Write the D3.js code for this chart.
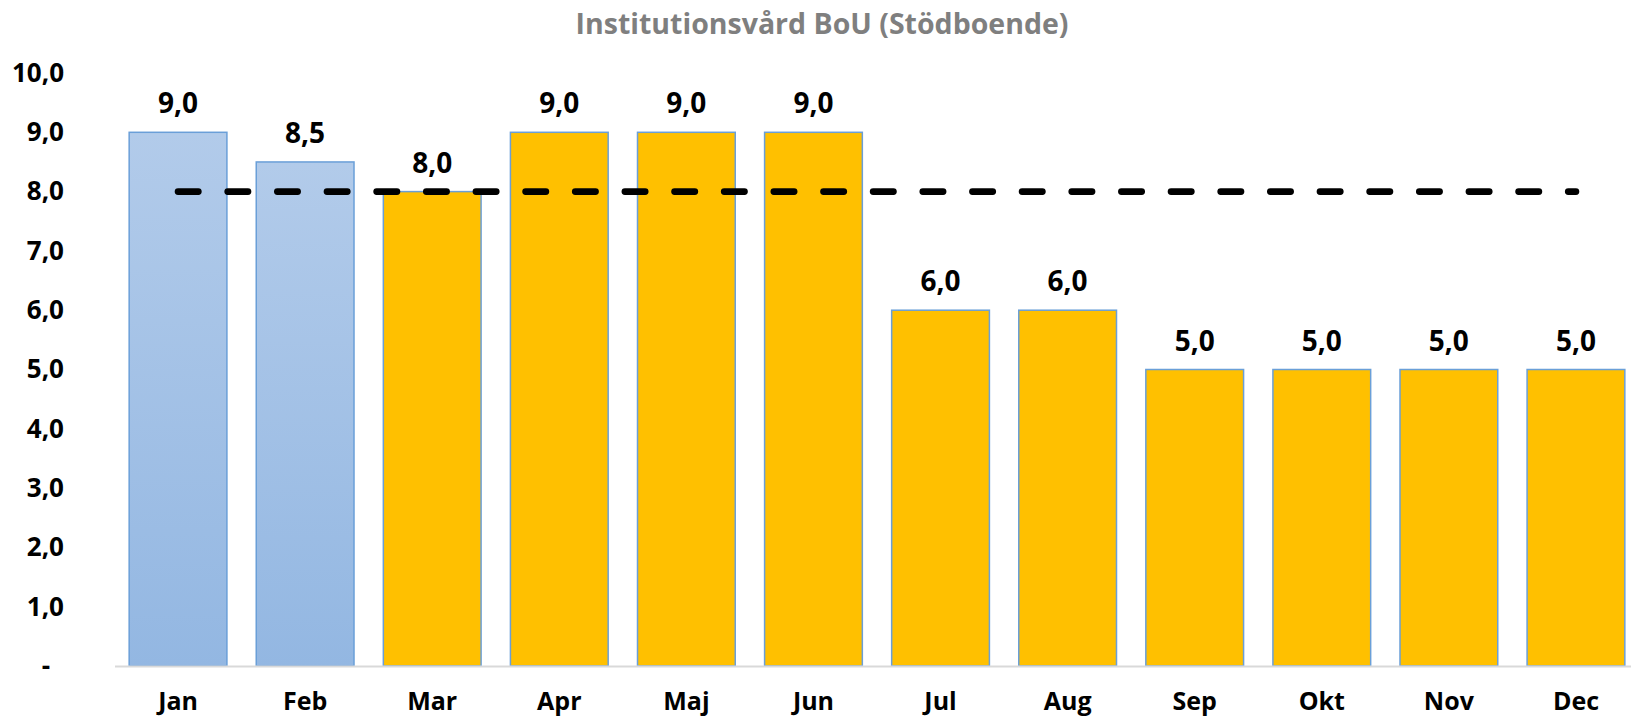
<!DOCTYPE html>
<html lang="sv">
<head>
  <meta charset="UTF-8">
  <title>Institutionsvård BoU (Stödboende)</title>
  <style>
    body{ margin: 0; background: #fff; }
    svg{ display: block; }
    text{ font-family: "Open Sans", sans-serif; font-weight: bold; }
  </style>
</head>
<body>
<svg width="1631" height="717"></svg>

<script src="https://cdn.jsdelivr.net/npm/d3@7"></script>
<script>
  // data
  var months = ["Jan", "Feb", "Mar", "Apr", "Maj", "Jun", "Jul", "Aug", "Sep", "Okt", "Nov", "Dec"];
  var values = [9.0, 8.5, 8.0, 9.0, 9.0, 9.0, 6.0, 6.0, 5.0, 5.0, 5.0, 5.0];
  var kind = ["utfall", "utfall", "prognos", "prognos", "prognos", "prognos", "prognos", "prognos", "prognos", "prognos", "prognos", "prognos"];
  var target = [8, 8, 8, 8, 8, 8, 8, 8, 8, 8, 8, 8];
  var yTicks = [0, 1, 2, 3, 4, 5, 6, 7, 8, 9, 10];

  var svg = d3.select('svg');
  var fmt = function (v) { return v === 0 ? '-' : d3.format('.1f')(v).replace('.', ','); };

  var x = d3.scaleBand().domain(months).range([114.5, 1639.5]).paddingInner(0.2308).paddingOuter(0.1154);
  var y = d3.scaleLinear().domain([0, 10]).range([666, 73]);

  // gradient for blue bars
  var grad = svg.append('defs').append('linearGradient').attr('id', 'blueGrad')
          .attr('x1', 0).attr('y1', 0).attr('x2', 0).attr('y2', 1);
  grad.append('stop').attr('offset', '0%').attr('stop-color', '#b2cbea');
  grad.append('stop').attr('offset', '100%').attr('stop-color', '#93b7e2');

  // title
  svg.append('text').attr('x', 822).attr('y', 34).attr('text-anchor', 'middle')
          .attr('fill', '#7f7f7f').style('font-size', '28.5px')
          .text('Institutionsvård BoU (Stödboende)');

  // y axis (labels only)
  var yAxis = svg.append('g').attr('transform', 'translate(64,0)')
          .call(d3.axisLeft(y).tickValues(yTicks).tickFormat(fmt).tickSize(0).tickPadding(0));
  yAxis.select('.domain').remove();
  yAxis.selectAll('text').style('font-size', '26px').attr('fill', '#000')
          .attr('x', function (d) { return d === 0 ? -14 : 0; });

  // bars
  svg.append('g').selectAll('rect').data(months).enter().append('rect')
          .attr('x', function (d) { return x(d); })
          .attr('y', function (d, i) { return y(values[i]); })
          .attr('width', x.bandwidth())
          .attr('height', function (d, i) { return y(0) - y(values[i]); })
          .attr('fill', function (d, i) { return kind[i] === 'utfall' ? 'url(#blueGrad)' : '#ffc000'; })
          .attr('stroke', '#6a9fd8').attr('stroke-width', 1.5);

  // x axis
  var xAxis = svg.append('g').attr('transform', 'translate(0,' + y(0) + ')')
          .call(d3.axisBottom(x).tickSize(0).tickPadding(26));
  xAxis.select('.domain').attr('stroke', '#d9d9d9').attr('stroke-width', 2);
  xAxis.selectAll('text').style('font-size', '25px').attr('fill', '#000');

  // target line
  var line = d3.line()
          .x(function (d, i) { return x(months[i]) + x.bandwidth() / 2; })
          .y(function (d) { return y(d); });
  svg.append('path').datum(target).attr('d', line)
          .attr('fill', 'none').attr('stroke', '#000').attr('stroke-width', 6.7)
          .attr('stroke-dasharray', '20.3,29.35').attr('stroke-linecap', 'round');

  // data labels
  svg.append('g').selectAll('text').data(months).enter().append('text')
          .attr('x', function (d) { return x(d) + x.bandwidth() / 2; })
          .attr('y', function (d, i) { return y(values[i]) - 19; })
          .attr('text-anchor', 'middle').style('font-size', '28px').attr('fill', '#000')
          .text(function (d, i) { return fmt(values[i]); });
</script>
</body>
</html>
